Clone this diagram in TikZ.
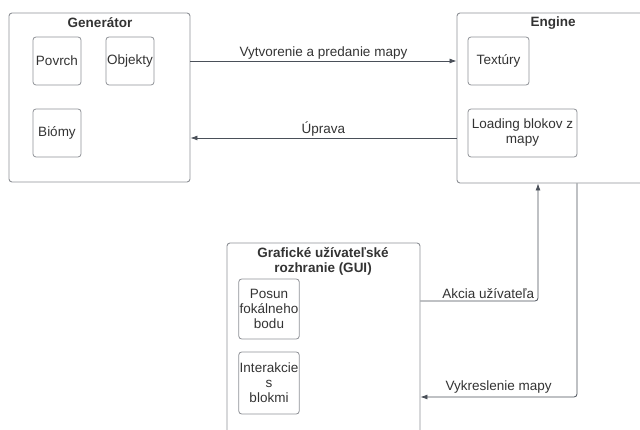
\documentclass[tikz,border=0pt]{standalone}
\usepackage{fontspec}
\setmainfont{Liberation Sans}
\usepackage{tikz}
\usetikzlibrary{arrows.meta}

\definecolor{boxgray}{HTML}{8E9196}
\definecolor{linegray}{HTML}{4A5059}
\definecolor{txt}{HTML}{333333}

\tikzset{
  outerbox/.style={draw=boxgray,rounded corners=3pt,line width=0.9pt,inner sep=0pt},
  innerbox/.style={draw=boxgray,rounded corners=3pt,line width=0.8pt,align=center,
    inner sep=1pt,text=txt,font=\fontsize{13.5}{15}\selectfont},
  boxtitle/.style={font=\bfseries\fontsize{13.5}{15.5}\selectfont,text=txt,align=center,inner sep=1pt},
  flow/.style={draw=linegray,line width=0.8pt,-{Latex[length=7pt,width=5pt]}},
  flowlabel/.style={text=txt,font=\fontsize{13.5}{15}\selectfont,inner sep=1.5pt}
}

\begin{document}
\begin{tikzpicture}[x=1pt,y=-1pt]
\useasboundingbox (0,0) rectangle (640,430);
\clip (0,0) rectangle (640,430);

% Generator
\node[outerbox,minimum width=181pt,minimum height=169pt] (gen) at (99.5,97.5) {};
\node[boxtitle] (gentitle) at (100,23) {Generátor};
\node[innerbox,minimum width=48pt,minimum height=48pt] (povrch) at (57,61) {Povrch};
\node[innerbox,minimum width=48pt,minimum height=48pt] (objekty) at (130,61) {Objekty};
\node[innerbox,minimum width=48pt,minimum height=48pt] (biomy) at (57,133) {Biómy};

% Engine
\node[outerbox,minimum width=192pt,minimum height=170pt] (eng) at (553,98) {};
\node[boxtitle] (engtitle) at (553,23) {Engine};
\node[innerbox,minimum width=61pt,minimum height=48pt] (textury) at (498.5,61) {Textúry};
\node[innerbox,minimum width=109pt,minimum height=48pt] (loading) at (522.5,133) {Loading blokov z\\mapy};

% GUI
\node[outerbox,minimum width=193pt,minimum height=220pt] (gui) at (323.5,353) {};
\node[boxtitle] (guititle) at (323,261.5) {Grafické užívateľské\\rozhranie (GUI)};
\node[innerbox,minimum width=60pt,minimum height=60pt] (posun) at (269,309) {Posun\\fokálneho\\bodu};
\node[innerbox,minimum width=60pt,minimum height=62pt] (interakcie) at (269,383) {Interakcie\\s\\blokmi};

% connectors
\draw[flow] (gen.east |- 0,61) -- node[flowlabel,above] {Vytvorenie a predanie mapy} (eng.west |- 0,61);
\draw[flow] (eng.west |- 0,138) -- node[flowlabel,above] {Úprava} (gen.east |- 0,138);
\draw[flow,rounded corners=3pt] (gui.east |- 0,301) -| node[flowlabel,pos=0.5,above left,xshift=-2pt] {Akcia užívateľa} (eng.south -| 538,0);
\draw[flow,rounded corners=3pt] (eng.south -| 577,0) |- node[flowlabel,pos=0.75,above,yshift=2pt] {Vykreslenie mapy} (gui.east |- 0,397);
\end{tikzpicture}
\end{document}
